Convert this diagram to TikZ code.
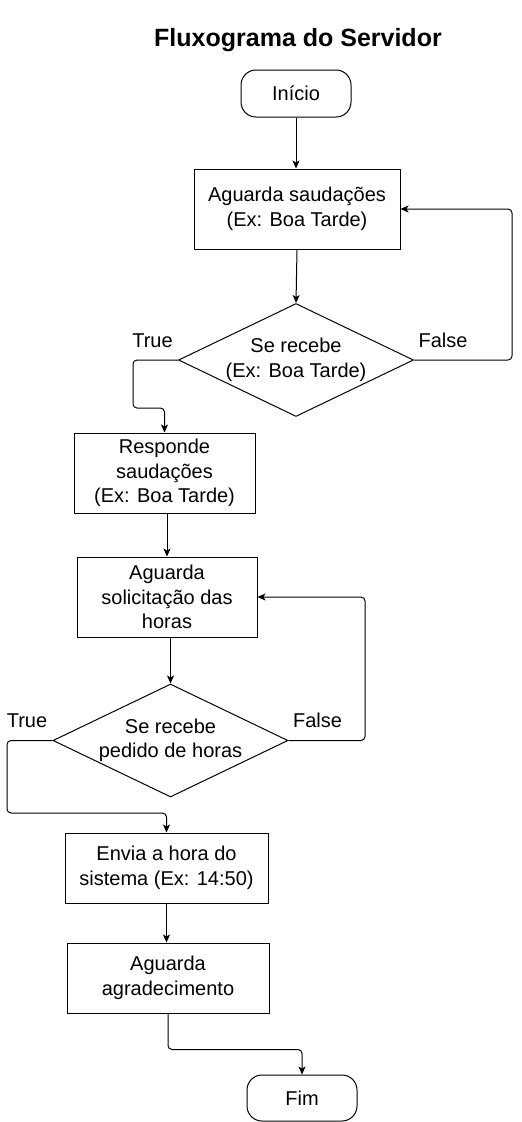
\documentclass[tikz,border=0pt]{standalone}
\usepackage{fontspec}
\setmainfont{Liberation Sans}
\usetikzlibrary{shapes.geometric,arrows.meta}
\begin{document}
\begin{tikzpicture}[x=1pt,y=-1pt,
  txt/.style={font=\fontsize{20}{24.5}\selectfont},
  box/.style={draw,line width=1pt,rectangle,inner sep=0pt,align=center,txt},
  term/.style={box,rounded corners=15pt},
  dec/.style={draw,line width=1pt,diamond,inner sep=0pt,minimum width=235pt,minimum height=113pt},
  lbl/.style={txt,inner sep=0pt,anchor=base},
  arr/.style={line width=1pt,-{Stealth[length=8pt,width=7pt,inset=2pt]},rounded corners=4pt}]
\useasboundingbox (0,0) rectangle (522,1122);
\node[anchor=base,inner sep=0pt,font=\fontsize{25}{29}\selectfont\bfseries] (title) at (298,46) {Fluxograma do Servidor};
\node[term,minimum width=110pt,minimum height=47pt] (inicio) at (296,93.5) {Início};
\node[box,minimum width=206pt,minimum height=80pt] (b1) at (297,209) {Aguarda saudações\\(Ex: Boa Tarde)};
\node[dec,label={[txt,align=center,inner sep=0pt]center:{Se recebe\\(Ex: Boa Tarde)}}] (d1) at (296,360) {};
\node[lbl] (t1l) at (152.5,347) {True};
\node[lbl] (f1l) at (443,347) {False};
\node[box,minimum width=181pt,minimum height=80pt] (b2) at (164.5,473) {Responde\\saudações\\(Ex: Boa Tarde)};
\node[box,minimum width=180pt,minimum height=80pt] (b3) at (167,597) {Aguarda\\solicitação das\\horas};
\node[dec,label={[txt,align=center,inner sep=0pt]center:{Se recebe\\pedido de horas}}] (d2) at (170.5,740.5) {};
\node[lbl] (t2l) at (27,727) {True};
\node[lbl] (f2l) at (317.5,727) {False};
\node[box,minimum width=203pt,minimum height=70pt] (b4) at (166.5,868) {Envia a hora do\\sistema (Ex: 14:50)};
\node[box,minimum width=202pt,minimum height=70pt] (b5) at (168,978) {Aguarda\\agradecimento};
\node[term,minimum width=110pt,minimum height=46pt] (fim) at (302,1098) {Fim};
\coordinate (cf1) at (512,360);
\coordinate (ct1) at (133,408);
\coordinate (cf2) at (365,740.5);
\coordinate (ct2) at (7,813);
\draw[arr] (inicio.south) -- (inicio.south |- b1.north);
\draw[arr] (b1.south) -- (d1.north);
\draw[arr] (d1.east) -- (cf1) |- (b1.east);
\draw[arr] (d1.west) -| (ct1) -| (b2.north);
\draw[arr] (b3.north |- b2.south) -- (b3.north);
\draw[arr] (d2.north |- b3.south) -- (d2.north);
\draw[arr] (d2.east) -- (cf2) |- (b3.east);
\draw[arr] (d2.west) -| (ct2) -| (b4.north);
\draw[arr] (b4.south) -- (b4.south |- b5.north);
\draw[arr] (b5.south) -- ++(0,36) -| (fim.north);
\end{tikzpicture}
\end{document}
